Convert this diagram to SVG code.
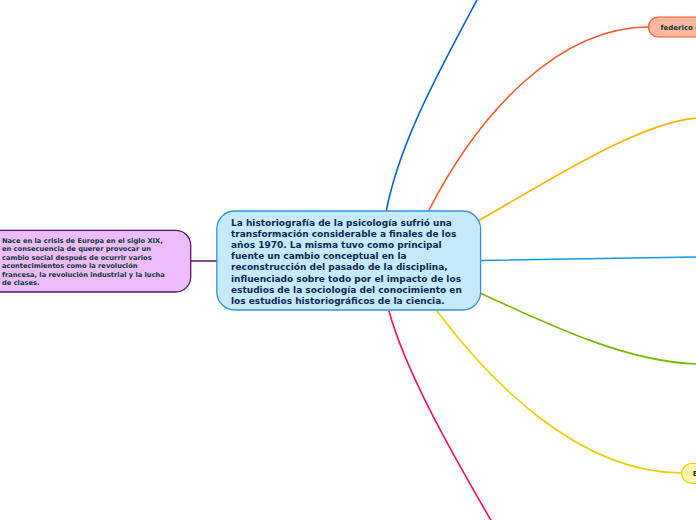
<svg xmlns="http://www.w3.org/2000/svg" width="696" height="520" viewBox="0 0 696 520">
<style>
.c{fill:none;stroke-width:1.6;stroke-linecap:round}
.t{font-family:"DejaVu Sans",Verdana,sans-serif;font-weight:bold}
.main{fill:#0c2950;font-size:9px}
.side{fill:#103b36;font-size:6.7px}
.leaf{fill:#0c3b2e;font-size:7px}
</style>
<rect width="696" height="520" fill="#ffffff"/>
<g id="connectors">
<path class="c" stroke="#0b64d0" d="M386,212 C400,140 440,70 478,-2"/>
<path class="c" stroke="#f25a2a" d="M428,212 C480,110 560,27 649,27"/>
<path class="c" stroke="#fbb300" d="M478,221 C550,180 640,122 697,118"/>
<path class="c" stroke="#0f9be4" d="M480,260.5 C560,259 640,257.5 697,257"/>
<path class="c" stroke="#78b800" d="M480,293 C560,330 630,362 697,364"/>
<path class="c" stroke="#ead100" d="M437,311 C485,375 575,473 682,473"/>
<path class="c" stroke="#f0106c" d="M389,311 C405,370 450,450 492,522"/>
<path class="c" stroke="#5c1466" d="M190,261 L217,261"/>
</g>
<g id="node-left">
<rect x="-20" y="230.3" width="210.7" height="61.7" rx="15" fill="#ecbcfc" stroke="#5c1466" stroke-width="1.3"/>
<text class="t side" x="2" y="242.6">Nace en la crisis de Europa en el siglo XIX,</text>
<text class="t side" x="2" y="251.1">en consecuencia de querer provocar un</text>
<text class="t side" x="2" y="259.6">cambio social después de ocurrir varios</text>
<text class="t side" x="2" y="268.0">acontecimientos como la revolución</text>
<text class="t side" x="2" y="276.5">francesa, la revolución industrial y la lucha</text>
<text class="t side" x="2" y="285.0">de clases.</text>
</g>
<g id="node-center">
<rect x="216.8" y="211" width="263.8" height="99" rx="18" fill="#c5eafc" stroke="#3b92d6" stroke-width="1.3"/>
<text class="t main" x="231" y="225.5">La historiografía de la psicología sufrió una</text>
<text class="t main" x="231" y="236.7">transformación considerable a finales de los</text>
<text class="t main" x="231" y="247.9">años 1970. La misma tuvo como principal</text>
<text class="t main" x="231" y="259.1">fuente un cambio conceptual en la</text>
<text class="t main" x="231" y="270.3">reconstrucción del pasado de la disciplina,</text>
<text class="t main" x="231" y="281.5">influenciado sobre todo por el impacto de los</text>
<text class="t main" x="231" y="292.7">estudios de la sociología del conocimiento en</text>
<text class="t main" x="231" y="303.9">los estudios historiográficos de la ciencia.</text>
</g>
<g id="node-federico">
<rect x="648.5" y="17" width="80" height="20" rx="10" fill="#fbb9a1" stroke="#f25a2a" stroke-width="1.2"/>
<text class="t leaf" x="660.5" y="29.6">federico de</text>
</g>
<g id="node-e">
<rect x="681.7" y="463.5" width="60" height="20" rx="10" fill="#fff4b0" stroke="#ead100" stroke-width="1.2"/>
<text class="t leaf" x="692.7" y="476.1">E</text>
</g>
</svg>
